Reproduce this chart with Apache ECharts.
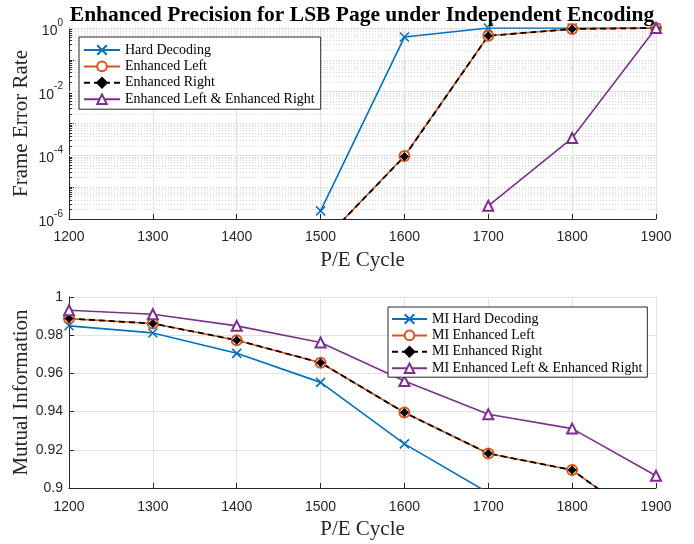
<!DOCTYPE html>
<html>
<head>
<meta charset="utf-8">
<script src="https://cdn.jsdelivr.net/npm/echarts@6/dist/echarts.min.js"></script>
<style>
html, body { margin: 0; padding: 0; background: #fff; }
#main { width: 694px; height: 544px; }
</style>
</head>
<body>
<div id="main"></div>
<script>
var cycles = [1200, 1300, 1400, 1500, 1600, 1700, 1800, 1900];

// frame error rate, null = not plotted
var ferHard = [null, null, null, 1.8e-6, 0.52, 1, 1, 1];
var ferLeft = [null, null, null, 1.7e-7, 9.5e-5, 0.57, 0.93, 1];
var ferRight = [null, null, null, 1.7e-7, 9.2e-5, 0.57, 0.93, 1];
var ferBoth = [null, null, null, null, null, 2.6e-6, 3.5e-4, 1];

// mutual information
var miHard = [0.9849, 0.9812, 0.9705, 0.9553, 0.9231, 0.8975, null, null];
var miLeft = [0.9887, 0.9861, 0.9774, 0.9656, 0.9395, 0.9181, 0.9094, 0.8778];
var miRight = [0.9887, 0.9861, 0.9774, 0.9656, 0.9395, 0.9181, 0.9094, 0.8778];
var miBoth = [0.9931, 0.9910, 0.9849, 0.9762, 0.9560, 0.9386, 0.9311, 0.9064];

var topNames = ['Hard Decoding', 'Enhanced Left', 'Enhanced Right', 'Enhanced Left & Enhanced Right'];
var botNames = ['MI Hard Decoding', 'MI Enhanced Left', 'MI Enhanced Right', 'MI Enhanced Left & Enhanced Right'];

var blue = '#0072BD', orange = '#D95319', black = '#000000', purple = '#7E2F8E';
var axisColor = '#262626';
var sans = 'Liberation Sans';
var serif = 'Liberation Serif';

function pts(ys) {
    return cycles.map(function (c, i) { return [c, ys[i]]; });
}

// matlab style log grid: dotted minor lines + short inner ticks
function logGuides() {
    var out = [];
    for (var k = -6; k < 0; k++) {
        for (var m = 1; m <= 9; m++) {
            if (m === 1 && k % 2 === 0) continue;
            var v = m * Math.pow(10, k);
            out.push({ yAxis: v, lineStyle: { color: '#d6d6d6', type: [1, 2], width: 1 } });
            out.push([{ coord: [1200, v], lineStyle: { color: axisColor, type: 'solid', width: 1 } }, { coord: [1203.5, v] }]);
        }
    }
    [1e-4, 1e-2, 1].forEach(function (v) {
        out.push({ yAxis: v, lineStyle: { color: '#e2e2e2', type: 'solid', width: 1 } });
    });
    return out;
}

var styles = [
    { symbol: 'path://M0,0L10,10M10,0L0,10', symbolSize: 9, color: blue, dash: 'solid', width: 1.6 },
    { symbol: 'emptyCircle', symbolSize: 10, color: orange, dash: 'solid', width: 1.6 },
    { symbol: 'diamond', symbolSize: 7, color: black, dash: [6, 4], width: 1.8 },
    { symbol: 'emptyTriangle', symbolSize: 10, color: purple, dash: 'solid', width: 1.6 }
];

function line(name, data, s, gi) {
    return {
        type: 'line',
        name: name,
        xAxisIndex: gi,
        yAxisIndex: gi,
        data: pts(data),
        symbol: s.symbol,
        symbolSize: s.symbolSize,
        showSymbol: true,
        lineStyle: { color: s.color, width: s.width, type: s.dash },
        itemStyle: { color: s.color, borderColor: s.color, borderWidth: 1.5 },
        emphasis: { disabled: true },
        animation: false
    };
}

function xAxis(gi) {
    return {
        type: 'value', gridIndex: gi, min: 1200, max: 1900, interval: 100,
        name: 'P/E Cycle', nameLocation: 'middle', nameGap: 31,
        nameTextStyle: { fontFamily: serif, fontSize: 21, color: axisColor },
        axisLine: { show: true, onZero: false, lineStyle: { color: axisColor, width: 1 } },
        axisTick: { show: true, inside: true, length: 5, lineStyle: { color: axisColor } },
        axisLabel: { margin: gi ? 12 : 11, fontFamily: sans, fontSize: 14, color: axisColor,
            formatter: function (v) { return String(v); } },
        splitLine: { show: true, lineStyle: { color: '#e2e2e2', width: 1 } }
    };
}

var series = [
    line(topNames[0], ferHard, styles[0], 0),
    line(topNames[1], ferLeft, styles[1], 0),
    line(topNames[2], ferRight, styles[2], 0),
    line(topNames[3], ferBoth, styles[3], 0),
    line(botNames[0], miHard, styles[0], 1),
    line(botNames[1], miLeft, styles[1], 1),
    line(botNames[2], miRight, styles[2], 1),
    line(botNames[3], miBoth, styles[3], 1)
];
series[0].markLine = {
    silent: true, z: 1, animation: false, precision: 12,
    symbol: ['none', 'none'],
    label: { show: false },
    emphasis: { disabled: true },
    data: logGuides()
};

var legendBase = {
    orient: 'vertical',
    itemHeight: 12,
    itemGap: 2.4,
    backgroundColor: '#fff',
    borderColor: axisColor,
    borderWidth: 1,
    borderRadius: 0,
    selectedMode: false,
    textStyle: { fontFamily: serif, fontSize: 14, color: '#000', lineHeight: 14 }
};

var chartDom = document.getElementById('main');
var myChart = echarts.init(chartDom);
var option = {
    backgroundColor: '#fff',
    animation: false,
    title: {
        text: 'Enhanced Precision for LSB Page under Independent Encoding',
        left: 357, top: -1, textAlign: 'center',
        textStyle: { fontFamily: serif, fontSize: 21.5, fontWeight: 'bold', color: '#000' }
    },
    legend: [
        Object.assign({}, legendBase, { data: topNames, left: 79, top: 37, itemWidth: 36, padding: [6, 6, 3, 4] }),
        Object.assign({}, legendBase, { data: botNames, left: 388, top: 307, itemWidth: 35, padding: [5, 5, 2, 3] })
    ],
    grid: [
        { left: 69, top: 28, width: 587, height: 191, outerBoundsMode: 'none' },
        { left: 69, top: 297, width: 587, height: 191, outerBoundsMode: 'none' }
    ],
    xAxis: [xAxis(0), xAxis(1)],
    yAxis: [
        {
            type: 'log', gridIndex: 0, logBase: 10, min: 1e-6, max: 1,
            name: 'Frame Error Rate', nameLocation: 'middle', nameGap: 37, nameMoveOverlap: false,
            nameTextStyle: { fontFamily: serif, fontSize: 21, color: axisColor },
            axisLine: { show: true, lineStyle: { color: axisColor, width: 1 } },
            axisTick: { show: true, inside: true, length: 5, lineStyle: { color: axisColor } },
            splitLine: { show: false },
            axisLabel: {
                margin: 6, color: axisColor,
                formatter: function (v) {
                    var e = Math.round(Math.log10(v));
                    if (e % 2 !== 0) return '';
                    return '{b|10}{s|' + e + '}';
                },
                rich: {
                    b: { fontFamily: sans, fontSize: 14, color: axisColor, padding: [6, 0, 0, 0], verticalAlign: 'bottom' },
                    s: { fontFamily: sans, fontSize: 10, color: axisColor, verticalAlign: 'top', lineHeight: 11 }
                }
            }
        },
        {
            type: 'value', gridIndex: 1, min: 0.9, max: 1, interval: 0.02,
            name: 'Mutual Information', nameLocation: 'middle', nameGap: 37, nameMoveOverlap: false,
            nameTextStyle: { fontFamily: serif, fontSize: 21, color: axisColor },
            axisLine: { show: true, onZero: false, lineStyle: { color: axisColor, width: 1 } },
            axisTick: { show: true, inside: true, length: 5, lineStyle: { color: axisColor } },
            splitLine: { show: true, lineStyle: { color: '#e2e2e2', width: 1 } },
            axisLabel: { margin: 6, fontFamily: sans, fontSize: 14, color: axisColor }
        }
    ],
    series: series
};

option && myChart.setOption(option);
</script>
</body>
</html>
